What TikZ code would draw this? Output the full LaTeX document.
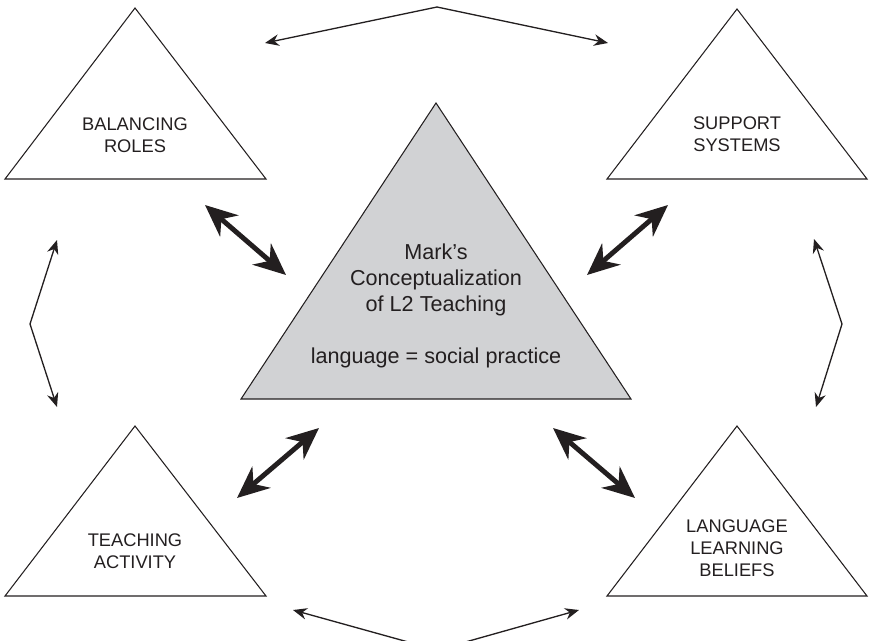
\documentclass[tikz,border=0pt]{standalone}
\usepackage{fontspec}
\setmainfont{Liberation Sans}
\usetikzlibrary{arrows.meta}
\definecolor{coregray}{RGB}{209,210,212}
\definecolor{inkgray}{RGB}{35,31,32}

\begin{document}
\begin{tikzpicture}[x=0.02cm,y=-0.02cm]
\tikzstyle{corner} = [draw=inkgray,line width=0.6pt,line join=miter]
\tikzstyle{core} = [corner,fill=coregray]
\tikzstyle{cornertext} = [align=center,text=inkgray,font=\fontsize{10.4}{12.6}\selectfont]
\tikzstyle{coretext} = [align=center,text=inkgray,font=\fontsize{12.3}{14.8}\selectfont]
\tikzstyle{link} = [draw=inkgray,line width=0.75pt,line join=miter,{Stealth[length=0.28cm,width=0.23cm]}-{Stealth[length=0.28cm,width=0.23cm]}]
\tikzstyle{bond} = [draw=inkgray,line width=2.8pt,{Stealth[length=0.64cm,width=0.56cm]}-{Stealth[length=0.64cm,width=0.56cm]}]

\useasboundingbox (0,0) rectangle (869,640);

% triangles
\coordinate (tlA) at (135,8);   \coordinate (tlB) at (5,179);   \coordinate (tlC) at (266,179);
\coordinate (trA) at (737,9);   \coordinate (trB) at (607,179); \coordinate (trC) at (867,179);
\coordinate (blA) at (135,426); \coordinate (blB) at (5,596);   \coordinate (blC) at (266,596);
\coordinate (brA) at (737,426); \coordinate (brB) at (607,596); \coordinate (brC) at (867,596);
\coordinate (mA) at (436,103);  \coordinate (mB) at (241,399);  \coordinate (mC) at (631,399);

\draw[core] (mA) -- (mB) -- (mC) -- cycle;
\draw[corner] (tlA) -- (tlB) -- (tlC) -- cycle;
\draw[corner] (trA) -- (trB) -- (trC) -- cycle;
\draw[corner] (blA) -- (blB) -- (blC) -- cycle;
\draw[corner] (brA) -- (brB) -- (brC) -- cycle;

\node[coretext] (mark) at (436,306) {Mark's\\Conceptualization\\of L2 Teaching\\[14.8pt]language = social practice};
\node[cornertext] (roles) at (135,135) {BALANCING\\ROLES};
\node[cornertext] (support) at (737,134) {SUPPORT\\SYSTEMS};
\node[cornertext] (activity) at (135,551) {TEACHING\\ACTIVITY};
\node[cornertext] (beliefs) at (737,548) {LANGUAGE\\LEARNING\\BELIEFS};

% thin links between the outer triangles
\coordinate (topL) at (265,43);  \coordinate (topM) at (437,7);   \coordinate (topR) at (608,43);
\coordinate (lftT) at (57,240);  \coordinate (lftM) at (30,324);  \coordinate (lftB) at (57,407);
\coordinate (rgtT) at (814,239); \coordinate (rgtM) at (842,324); \coordinate (rgtB) at (816,407);
\coordinate (botL) at (293,610); \coordinate (botM) at (437,650); \coordinate (botR) at (579,610);

\draw[link] (topL) -- (topM) -- (topR);
\draw[link] (lftT) -- (lftM) -- (lftB);
\draw[link] (rgtT) -- (rgtM) -- (rgtB);
\draw[link] (botL) -- (botM) -- (botR);

% thick links to the centre
\coordinate (b1a) at (205,205); \coordinate (b1b) at (286,275);
\coordinate (b2a) at (668,205); \coordinate (b2b) at (587,275);
\coordinate (b3a) at (319,428); \coordinate (b3b) at (237,498);
\coordinate (b4a) at (553,428); \coordinate (b4b) at (635,498);

\draw[bond] (b1a) -- (b1b);
\draw[bond] (b2a) -- (b2b);
\draw[bond] (b3a) -- (b3b);
\draw[bond] (b4a) -- (b4b);
\end{tikzpicture}
\end{document}
